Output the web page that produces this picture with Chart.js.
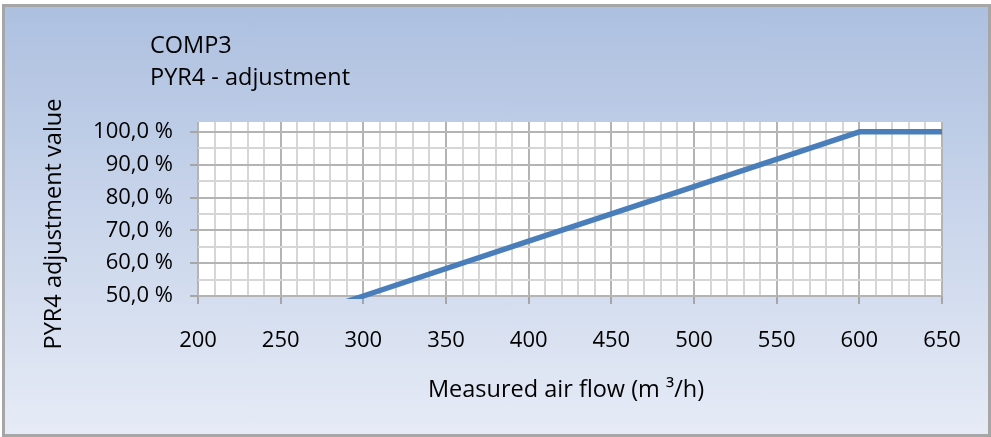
<!DOCTYPE html>
<html>
<head>
<meta charset="utf-8">
<title>COMP3 PYR4 - adjustment</title>
<script src="https://cdn.jsdelivr.net/npm/chart.js@4.4.1/dist/chart.umd.min.js"></script>
<style>
  html, body { margin: 0; padding: 0; background: #fff; }
  #frame {
    position: absolute; left: 2px; top: 4px; width: 983px; height: 427px;
    border: 3px solid #a6a6a6;
    background: linear-gradient(to bottom, #adc0e0, #e6ebf6);
  }
  #wrap { position: absolute; left: 0; top: 0; width: 991px; height: 437px; }
</style>
</head>
<body>
<div id="frame"></div>
<div id="wrap"><canvas id="chart" width="991" height="437"></canvas></div>
<script>
"use strict";

// PYR4 adjustment curve for COMP3: adjustment (%) against measured air flow (m³/h)
const FLOW = [200, 300, 400, 500, 600, 650];
const ADJUST = [33.3, 50.0, 66.7, 83.3, 100.0, 100.0];

// labelled ticks; the grid in between is drawn as minor lines
const X_LABELS = [200, 250, 300, 350, 400, 450, 500, 550, 600, 650];
const Y_LABELS = [50, 60, 70, 80, 90, 100];

const TITLE = ["COMP3", "PYR4 - adjustment"];
const X_TITLE = "Measured air flow (m \u00b3/h)";
const Y_TITLE = "PYR4 adjustment value";

const FONT = "'Open Sans', sans-serif";
const SIZE = 22;        // tick labels
const TITLE_SIZE = 23.5; // chart and axis titles
Chart.defaults.font.family = FONT;
Chart.defaults.font.size = SIZE;
Chart.defaults.color = "#000";

const pct = (v) => v.toFixed(1).replace(".", ",") + " %";

function steps(from, to, step) {
  const out = [];
  for (let v = from; v <= to + 1e-9; v += step) out.push({ value: v });
  return out;
}

const gridColor = (labels) => (c) => labels.includes(c.tick.value) ? "#b4b4b4" : "#d6d6d6";
const tickColor = (labels) => (c) => labels.includes(c.tick.value) ? "#a6a6a6" : "rgba(0,0,0,0)";

// white plot area plus the chart/axis titles
const decor = {
  id: "decor",
  beforeDraw(chart) {
    const { ctx, chartArea: a } = chart;
    ctx.save();
    ctx.fillStyle = "#fff";
    ctx.fillRect(a.left, a.top, a.right - a.left, a.bottom - a.top);
    ctx.restore();
  },
  afterDraw(chart) {
    const { ctx } = chart;
    ctx.save();
    ctx.fillStyle = "#000";
    ctx.font = `${TITLE_SIZE}px ${FONT}`;
    ctx.textBaseline = "alphabetic";
    ctx.textAlign = "left";
    ctx.fillText(TITLE[0], 150, 53);
    ctx.fillText(TITLE[1], 150, 85);
    ctx.textAlign = "center";
    ctx.fillText(X_TITLE, 566, 397);
    ctx.translate(61, 224);
    ctx.rotate(-Math.PI / 2);
    ctx.fillText(Y_TITLE, 0, 0);
    ctx.restore();
  },
};

new Chart(document.getElementById("chart"), {
  type: "line",
  data: {
    datasets: [{
      data: FLOW.map((x, i) => ({ x, y: ADJUST[i] })),
      borderColor: "#4a7ebb",
      borderWidth: 5.5,
      borderJoinStyle: "round",
      pointRadius: 0,
      tension: 0,
      clip: 3,
    }],
  },
  options: {
    responsive: false,
    devicePixelRatio: 1,
    animation: false,
    layout: { padding: { top: 122, left: 0, right: 49, bottom: 0 } },
    plugins: { legend: { display: false }, tooltip: { enabled: false } },
    scales: {
      x: {
        type: "linear",
        min: 200,
        max: 650,
        afterBuildTicks: (s) => { s.ticks = steps(200, 650, 10); },
        afterFit: (s) => { s.height = 141; },
        border: { display: false },
        grid: { color: gridColor(X_LABELS), tickColor: tickColor(X_LABELS), lineWidth: 2, tickLength: 8 },
        ticks: {
          autoSkip: false,
          maxRotation: 0,
          padding: 24,
          callback: (v) => (X_LABELS.includes(v) ? String(v) : ""),
        },
      },
      y: {
        type: "linear",
        min: 50,
        max: 103,
        afterBuildTicks: (s) => { s.ticks = steps(50, 100, 5); },
        afterFit: (s) => { s.width = 198; },
        border: { display: false },
        grid: { color: gridColor(Y_LABELS), tickColor: tickColor(Y_LABELS), lineWidth: 2, tickLength: 8 },
        ticks: {
          autoSkip: false,
          padding: 17,
          callback: (v) => (Y_LABELS.includes(v) ? pct(v) : ""),
        },
      },
    },
  },
  plugins: [decor],
});
</script>
</body>
</html>
